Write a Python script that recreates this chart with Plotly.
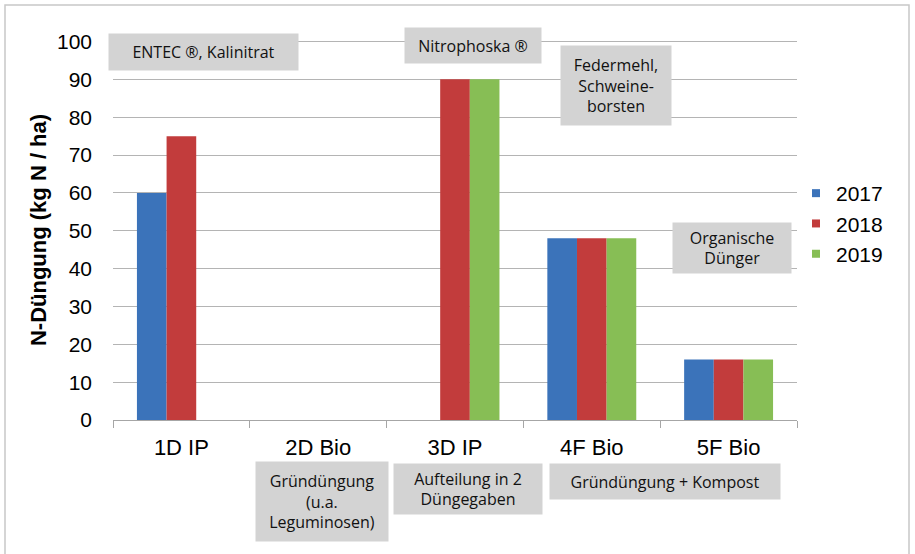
import plotly.graph_objects as go

categories = ["1D IP", "2D Bio", "3D IP", "4F Bio", "5F Bio"]
years = ["2017", "2018", "2019"]
values_2017 = [60, 0, 0, 48, 16]
values_2018 = [75, 0, 90, 48, 16]
values_2019 = [0, 0, 90, 48, 16]
y_ticks = list(range(0, 101, 10))

notes = [
    ("ENTEC ®, Kalinitrat", 108, 33, 189, 36),
    ("Nitrophoska ®", 404, 27, 136, 35),
    ("Federmehl,<br>Schweine-<br>borsten", 560, 45, 110, 79),
    ("Organische<br>Dünger", 672, 222, 118, 50),
    ("Gründüngung<br>(u.a.<br>Leguminosen)", 255, 461, 132, 79),
    ("Aufteilung in 2<br>Düngegaben", 393, 463, 148, 50),
    ("Gründüngung + Kompost", 549, 463, 230, 35),
]

colors = ["#3b73ba", "#c23c3c", "#87be55"]

W, H = 915, 554
L, R, T, B = 113, 118, 40, 134
PW, PH = W - L - R, H - T - B

def px(x):
    return (x - L) / PW

def py(y):
    return (H - B - y) / PH

fig = go.Figure()
for yr, vals, c in zip(years, [values_2017, values_2018, values_2019], colors):
    fig.add_trace(go.Bar(x=categories, y=vals, name=yr, showlegend=False,
                         marker=dict(color=c, line=dict(width=0))))
for yr, c in zip(years, colors):
    fig.add_trace(go.Scatter(x=[None], y=[None], mode="markers", name=yr,
                             marker=dict(symbol="square", size=8, color=c)))

for text, x, y, w, h in notes:
    fig.add_annotation(
        text=text, xref="paper", yref="paper", x=px(x), y=py(y),
        xanchor="left", yanchor="top", width=w, height=h, showarrow=False,
        bgcolor="#d3d3d3", borderpad=0, align="center", valign="middle",
        font=dict(family="Open Sans", size=16, color="#111111"),
    )

fig.add_shape(type="rect", xref="paper", yref="paper",
              x0=px(5), x1=px(909), y0=py(560), y1=py(5),
              line=dict(color="#c8c8c8", width=1.5), fillcolor="rgba(0,0,0,0)", layer="below")

fig.update_layout(
    width=W, height=H,
    margin=dict(l=L, r=R, t=T, b=B, autoexpand=False),
    paper_bgcolor="white", plot_bgcolor="white",
    barmode="group", bargap=0.35, bargroupgap=0,
    font=dict(family="Liberation Sans, Arial", size=21, color="black"),
    showlegend=True,
    legend=dict(x=px(796), y=py(173), xanchor="left", yanchor="top",
                font=dict(size=21), itemwidth=30, tracegroupgap=0,
                bgcolor="rgba(0,0,0,0)"),
)
fig.update_xaxes(
    showline=True, linecolor="#a6a6a6", linewidth=1.2,
    ticks="outside", tickson="boundaries", ticklen=7, tickcolor="#a6a6a6",
    showgrid=False, tickfont=dict(size=22), automargin=False, ticklabelstandoff=7,
)
fig.update_yaxes(
    range=[0, 100.4], tickvals=y_ticks, showgrid=True, gridcolor="#b4b4b4", gridwidth=1,
    zeroline=False, showline=False, ticks="", ticklabelstandoff=20,
    tickfont=dict(size=21), automargin=False,
    title=dict(text="<b>N-Düngung (kg N / ha)</b>", font=dict(size=22), standoff=4),
)

fig.write_html("out.html", config={"displayModeBar": False},
               post_script="document.body.style.margin='0';")
